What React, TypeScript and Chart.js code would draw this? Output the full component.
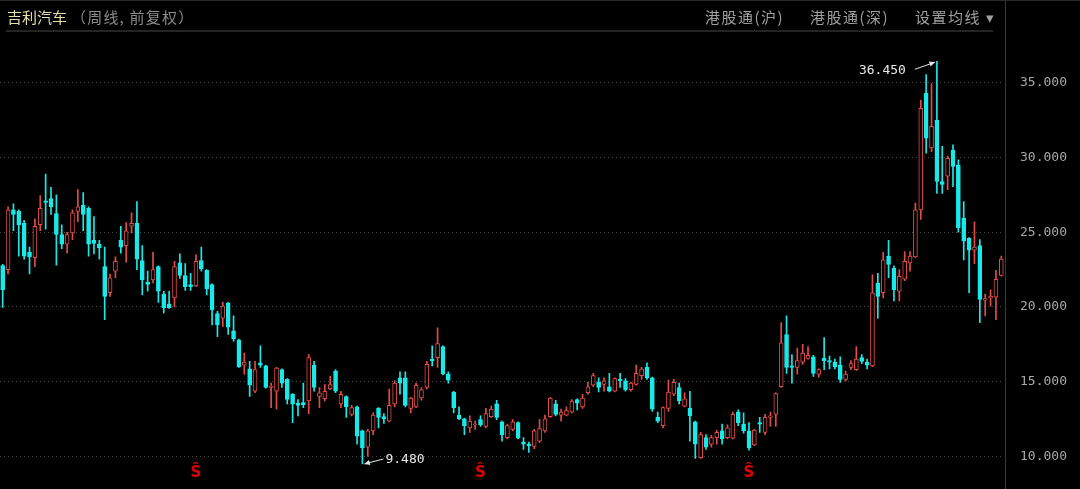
import React, { useEffect, useRef } from 'react';
import { Chart, registerables } from 'chart.js';

Chart.register(...registerables);

// Weekly OHLC (前复权)
const opens = [
  22.77, 22.5, 26.5, 26.4, 25.6, 23.65, 23.3, 25.5, 27.1, 27.25,
  26.25, 24.85, 24.2, 24.95, 26.4, 26.8, 26.6, 24.45, 24.2, 22.7,
  20.95, 22.4, 24.45, 24.1, 25.4, 25.6, 23.1, 21.65, 21.8, 22.7,
  20.85, 20.2, 20.6, 22.95, 22.1, 21.5, 21.4, 23.1, 22.45, 21.5,
  19.55, 19.25, 20.25, 18.4, 17.8, 16.1, 15.85, 14.35, 16.25, 16.05,
  14.6, 14.35, 15.8, 15.15, 14.15, 13.55, 13.6, 13.7, 16.1, 14.0,
  13.85, 14.5, 15.7, 13.5, 14.0, 12.8, 13.3, 11.7, 10.6, 11.7,
  13.2, 12.65, 12.35, 13.5, 15.25, 15.25, 13.2, 13.3, 13.9, 14.6,
  16.5, 16.6, 17.35, 15.5, 14.3, 12.75, 12.5, 11.9, 12.1, 12.45,
  12.0, 12.65, 13.5, 12.3, 11.25, 11.8, 12.25, 10.95, 10.8, 10.65,
  11.0, 11.7, 12.65, 13.5, 12.75, 12.75, 12.95, 13.8, 13.3, 14.25,
  14.75, 14.95, 14.8, 14.65, 14.35, 15.15, 15.05, 14.45, 14.8, 15.4,
  15.95, 15.25, 12.6, 12.05, 13.2, 14.15, 14.6, 13.35, 13.2, 12.3,
  9.9, 11.25, 10.8, 11.25, 11.7, 11.25, 11.2, 12.95, 12.15, 11.7,
  10.75, 12.25, 11.6, 12.6, 12.8, 14.65, 18.15, 16.05, 15.95, 16.3,
  16.55, 16.65, 15.5, 16.55, 16.4, 16.3, 16.1, 15.15, 15.95, 15.8,
  16.6, 16.3, 16.05, 21.6, 20.95, 23.4, 22.6, 21.05, 21.85, 22.95,
  23.35, 26.5, 34.3, 30.65, 32.5, 28.4, 28.75, 30.5, 29.5, 25.95,
  24.6, 23.8, 24.1, 20.45, 20.6, 20.65, 22.1,
];

const highs = [
  22.85, 26.7, 26.9, 26.5, 25.8, 24.0, 25.9, 27.45, 28.9, 28.0,
  27.5, 25.5, 25.0, 26.5, 27.85, 27.65, 26.7, 26.05, 24.45, 24.0,
  22.2, 23.35, 25.4, 25.65, 26.3, 27.05, 24.1, 22.4, 23.65, 22.75,
  21.05, 21.05, 23.05, 23.55, 22.9, 22.25, 23.5, 24.0, 22.5, 21.55,
  19.7, 20.3, 20.3, 19.4, 17.85, 16.9, 16.35, 16.35, 17.4, 16.1,
  14.9, 15.95, 15.85, 15.2, 14.2, 13.8, 14.9, 16.8, 16.35, 14.6,
  14.8, 15.35, 15.8, 14.35, 14.05, 13.4, 13.35, 11.75, 11.8, 12.9,
  13.25, 12.85, 14.5, 15.05, 15.65, 15.65, 13.95, 14.9, 14.6, 16.35,
  17.4, 18.6, 17.4, 15.65, 14.35, 13.3, 12.55, 12.7, 12.35, 12.7,
  13.2, 13.35, 13.75, 12.35, 12.15, 12.45, 12.3, 11.25, 10.95, 11.8,
  12.45, 12.75, 13.95, 13.75, 13.15, 13.3, 13.8, 13.85, 14.15, 14.95,
  15.55, 15.25, 15.25, 15.55, 15.25, 15.55, 15.2, 14.95, 16.1, 15.95,
  16.25, 15.3, 12.95, 13.3, 15.1, 15.15, 14.9, 14.25, 14.35, 12.35,
  11.6, 11.45, 11.4, 11.75, 12.15, 12.1, 12.95, 13.1, 12.9, 12.25,
  11.8, 12.6, 12.8, 12.95, 14.25, 18.95, 19.4, 16.8, 17.25, 17.5,
  17.35, 16.75, 15.85, 17.95, 16.7, 16.5, 16.65, 15.7, 16.4, 17.35,
  16.8, 16.5, 22.15, 22.25, 23.65, 24.45, 22.75, 22.5, 23.7, 23.7,
  26.95, 33.85, 35.55, 34.95, 36.45, 30.75, 30.1, 30.85, 29.85, 27.05,
  24.65, 25.7, 24.5, 20.85, 21.15, 22.45, 23.4,
];

const lows = [
  19.96, 22.2, 25.1, 23.4, 23.2, 22.2, 22.7, 25.1, 25.2, 26.2,
  22.8, 23.9, 23.6, 24.5, 25.7, 25.1, 23.4, 23.55, 23.2, 19.15,
  20.7, 21.95, 23.6, 23.0, 24.95, 22.5, 20.8, 21.05, 21.6, 20.3,
  19.6, 19.9, 20.0, 21.9, 21.1, 21.1, 21.35, 22.4, 20.8, 18.8,
  18.0, 18.7, 18.15, 17.7, 15.95, 15.5, 14.0, 14.25, 15.95, 14.55,
  13.25, 13.15, 14.6, 13.5, 12.25, 12.7, 13.25, 12.85, 14.35, 13.25,
  13.7, 14.45, 14.25, 13.25, 12.6, 12.7, 10.8, 9.48, 10.0, 11.45,
  11.9, 12.2, 12.3, 13.3, 14.15, 13.3, 12.9, 13.25, 13.75, 14.5,
  16.05, 15.95, 15.45, 14.9, 12.9, 12.45, 11.45, 11.6, 11.8, 12.0,
  11.9, 12.6, 12.45, 11.0, 11.15, 11.7, 11.15, 10.45, 10.25, 10.5,
  10.9, 11.6, 12.6, 12.7, 12.35, 12.7, 12.9, 13.1, 13.2, 14.15,
  14.65, 14.3, 14.35, 14.3, 14.3, 14.6, 14.35, 14.35, 14.75, 15.15,
  15.15, 13.0, 12.25, 11.9, 13.0, 14.05, 13.5, 13.3, 11.0, 9.85,
  9.85, 10.45, 10.6, 10.8, 10.8, 11.15, 11.15, 12.05, 11.55, 10.4,
  10.7, 11.6, 11.45, 12.0, 12.0, 14.6, 15.55, 14.9, 15.5, 16.15,
  16.5, 15.35, 15.3, 15.8, 15.85, 15.85, 14.95, 15.05, 15.8, 15.75,
  16.2, 15.85, 16.0, 19.25, 20.6, 21.95, 20.4, 20.4, 21.75, 22.4,
  23.3, 25.85, 30.3, 30.4, 27.6, 27.6, 27.85, 28.05, 25.0, 23.15,
  20.95, 22.9, 18.95, 19.4, 20.05, 19.15, 22.05,
];

const closes = [
  21.16, 26.5, 26.2, 25.5, 23.4, 23.35, 25.4, 26.6, 27.0, 26.7,
  24.85, 24.2, 24.85, 26.3, 26.7, 26.2, 24.2, 24.25, 23.95, 20.7,
  21.95, 23.05, 24.0, 25.1, 25.6, 23.2, 21.8, 21.5, 22.5, 21.05,
  19.95, 19.95, 22.7, 22.1, 21.35, 21.35, 23.05, 22.55, 21.2, 19.8,
  18.8, 20.05, 18.65, 17.85, 16.0, 16.3, 14.75, 15.8, 16.1, 14.6,
  14.7, 15.9, 14.9, 13.8, 13.5, 13.4, 13.45, 16.6, 14.6, 14.25,
  14.35, 14.8, 14.35, 14.15, 13.3, 13.25, 11.35, 10.55, 11.7, 12.75,
  12.6, 12.5, 13.4, 14.9, 14.9, 13.4, 13.9, 14.75, 14.45, 16.15,
  16.4, 17.55, 15.5, 15.1, 13.25, 12.5, 12.05, 12.35, 12.15, 12.1,
  12.85, 13.15, 12.6, 11.45, 12.05, 12.3, 11.2, 10.8, 10.7, 11.7,
  11.85, 12.5, 13.9, 12.8, 12.95, 13.05, 13.7, 13.55, 13.9, 14.65,
  15.4, 14.6, 15.05, 14.35, 15.2, 15.05, 14.45, 14.9, 15.55, 15.85,
  15.25, 13.15, 12.35, 13.25, 14.3, 14.95, 13.7, 13.85, 12.7, 10.8,
  11.45, 10.6, 11.25, 11.6, 11.15, 11.9, 12.8, 12.25, 11.7, 10.55,
  11.75, 12.15, 12.6, 12.7, 14.2, 17.6, 15.95, 15.95, 16.4, 16.9,
  16.75, 15.55, 15.8, 16.4, 16.3, 16.0, 15.15, 15.5, 16.2, 16.5,
  16.35, 16.1, 20.95, 20.7, 23.15, 22.85, 21.15, 22.05, 23.05, 23.4,
  26.5, 33.3, 31.3, 32.1, 28.4, 28.2, 29.95, 29.4, 25.3, 24.4,
  23.8, 24.0, 20.5, 20.55, 20.7, 21.85, 23.2,
];

const weeks = opens.map((_, i) => `W${i + 1}`);
const yTickValues = [10, 15, 20, 25, 30, 35];
const markerWeeks = [36, 89, 139];

const title = '吉利汽车';
const subtitle = '（周线, 前复权）';
const headerLinks = ['港股通(沪)', '港股通(深)', '设置均线 ▾'];

const UP = '#e24c48';
const DOWN = '#18eaea';

function drawArrow(ctx: CanvasRenderingContext2D, x1: number, y1: number, x2: number, y2: number) {
  ctx.beginPath();
  ctx.moveTo(x1, y1);
  ctx.lineTo(x2, y2);
  ctx.stroke();
  const ang = Math.atan2(y2 - y1, x2 - x1);
  const len = 6;
  ctx.beginPath();
  ctx.moveTo(x2, y2);
  ctx.lineTo(x2 - len * Math.cos(ang - 0.45), y2 - len * Math.sin(ang - 0.45));
  ctx.lineTo(x2 - len * Math.cos(ang + 0.45), y2 - len * Math.sin(ang + 0.45));
  ctx.closePath();
  ctx.fill();
}

const overlayPlugin = {
  id: 'overlay',
  afterDatasetsDraw(chart: any) {
    const { ctx } = chart;
    const x = chart.scales.x;
    const y = chart.scales.y;
    ctx.save();
    // right divider
    ctx.strokeStyle = '#3a3a3a';
    ctx.lineWidth = 1;
    ctx.beginPath();
    ctx.moveTo(1005.5, 0);
    ctx.lineTo(1005.5, chart.height);
    ctx.stroke();

    let iMax = 0;
    let iMin = 0;
    highs.forEach((h, i) => { if (h > highs[iMax]) iMax = i; });
    lows.forEach((l, i) => { if (l < lows[iMin]) iMin = i; });

    ctx.font = '13px "DejaVu Sans Mono"';
    ctx.fillStyle = '#e8e8e8';
    ctx.strokeStyle = '#e8e8e8';
    ctx.lineWidth = 1;
    ctx.textBaseline = 'middle';

    const hx = x.getPixelForValue(iMax);
    const hy = y.getPixelForValue(highs[iMax]);
    ctx.textAlign = 'right';
    ctx.fillText(highs[iMax].toFixed(3), hx - 31, hy + 9);
    drawArrow(ctx, hx - 22, hy + 8, hx - 2, hy + 1);

    const lx = x.getPixelForValue(iMin);
    const ly = y.getPixelForValue(lows[iMin]);
    ctx.textAlign = 'left';
    ctx.fillText(lows[iMin].toFixed(3), lx + 23, ly - 4);
    drawArrow(ctx, lx + 21, ly - 5, lx + 2, ly);

    ctx.fillStyle = '#e00000';
    ctx.font = 'bold 15px "DejaVu Sans"';
    ctx.textAlign = 'center';
    markerWeeks.forEach((i) => {
      ctx.fillText('Ŝ', x.getPixelForValue(i), 473);
    });
    ctx.restore();
  },
};

export default function App() {
  const ref = useRef<HTMLCanvasElement>(null);

  useEffect(() => {
    document.body.style.margin = '0';
    document.body.style.background = '#000';
    if (!ref.current) return;
    const bodies = opens.map((o, i) => [Math.min(o, closes[i]), Math.max(o, closes[i])]);
    const wicks = lows.map((l, i) => [l, highs[i]]);
    const isUp = opens.map((o, i) => closes[i] >= o);

    const chart = new Chart(ref.current, {
      type: 'bar',
      data: {
        labels: weeks,
        datasets: [
          {
            label: 'body',
            data: bodies as any,
            backgroundColor: isUp.map((u) => (u ? '#000' : DOWN)),
            borderColor: isUp.map((u) => (u ? UP : DOWN)),
            borderWidth: 1,
            borderSkipped: false,
            barThickness: 4,
            grouped: false,
            order: 0,
          } as any,
          {
            label: 'wick',
            data: wicks as any,
            backgroundColor: isUp.map((u) => (u ? UP : DOWN)),
            borderWidth: 0,
            barThickness: 1,
            grouped: false,
            order: 1,
          } as any,
        ],
      },
      options: {
        animation: false,
        responsive: false,
        maintainAspectRatio: false,
        layout: { padding: { top: 38, bottom: 23, left: 0, right: 0 } },
        plugins: { legend: { display: false }, tooltip: { enabled: false } },
        scales: {
          x: { display: false, offset: true, grid: { display: false } },
          y: {
            position: 'right',
            min: 9.398,
            max: 38.008,
            afterBuildTicks: (s: any) => {
              s.ticks = yTickValues.map((v) => ({ value: v }));
            },
            afterFit: (s: any) => {
              s.width = 76;
            },
            grid: { color: '#4a4a4a', drawTicks: false, lineWidth: 1 },
            border: { display: false, dash: [1, 3] },
            ticks: {
              color: '#a8a8a8',
              font: { family: '"DejaVu Sans Mono"', size: 13 },
              padding: 16,
              callback: (v: any) => Number(v).toFixed(3),
            },
          },
        },
      },
      plugins: [overlayPlugin],
    });
    return () => chart.destroy();
  }, []);

  const linkLeft = [705, 810, 915];

  return (
    <div style={{ position: 'relative', width: 1080, height: 489, background: '#000', overflow: 'hidden' }}>
      <canvas ref={ref} width={1080} height={489} style={{ position: 'absolute', left: 0, top: 0, width: 1080, height: 489 }} />
      <div style={{ position: 'absolute', left: 0, top: 0, width: 1080, height: 1, background: '#2a2a2a' }} />
      <div
        style={{
          position: 'absolute', left: 7, top: 8, whiteSpace: 'nowrap',
          fontFamily: '"Noto Sans CJK SC", sans-serif', fontSize: 15, lineHeight: '17px', color: '#e4ddb0',
        }}
      >
        {title}
        <span style={{ color: '#8c8c8c', marginLeft: 4, letterSpacing: 1.2 }}>{subtitle}</span>
      </div>
      {headerLinks.map((t, i) => (
        <div
          key={t}
          style={{
            position: 'absolute', left: linkLeft[i], top: 8, whiteSpace: 'nowrap', letterSpacing: 1.5,
            fontFamily: '"Noto Sans CJK SC", sans-serif', fontSize: 15, lineHeight: '17px', color: '#a0a0a0',
          }}
        >
          {t}
        </div>
      ))}
      <div style={{ position: 'absolute', left: 6, top: 30, width: 987, height: 2, background: '#242424' }} />
    </div>
  );
}
